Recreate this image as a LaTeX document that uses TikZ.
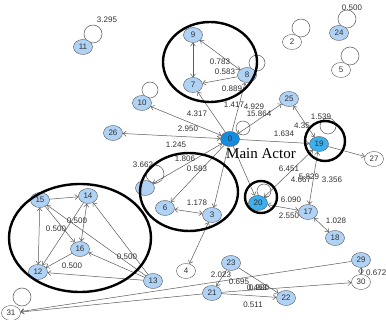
\documentclass[tikz,border=0pt]{standalone}
\usepackage{fontspec}
\setmainfont{Liberation Sans}
\newfontfamily\serifmain{Liberation Serif}
\usetikzlibrary{arrows.meta,shapes.geometric}
\definecolor{nodeblue}{RGB}{175,210,245}
\definecolor{mainblue}{RGB}{20,140,225}
\definecolor{midblue}{RGB}{60,175,238}
\definecolor{edgegray}{RGB}{90,90,90}
\definecolor{txtgray}{RGB}{50,50,50}
\begin{document}
\begin{tikzpicture}[x=1pt,y=-1pt,
  actor/.style={ellipse, draw=edgegray, fill=nodeblue, minimum width=19pt, minimum height=15pt, inner sep=0pt, font=\fontsize{8}{8}\selectfont, text=txtgray},
  wactor/.style={actor, fill=white},
  link/.style={draw=edgegray, line width=0.5pt, -{Straight Barb[length=3pt,width=5pt]}},
  blink/.style={draw=edgegray, line width=0.5pt, {Straight Barb[length=3pt,width=5pt]}-{Straight Barb[length=3pt,width=5pt]}},
  wlabel/.style={font=\fontsize{8}{8}\selectfont, text=txtgray, inner sep=0pt},
  selfloop/.style={draw=edgegray, line width=0.5pt},
  group/.style={draw=black, line width=2.4pt}
]
\useasboundingbox[fill=white] (0,0) rectangle (386,320);
% self loops
\foreach \p/\r in {{(93,34)}/9,{(257,63)}/8,{(150,90)}/8,{(301,28)}/9,{(347,19)}/9,{(350,56)}/9,{(243,128)}/7,{(328,126)}/8,{(264,191)}/7,{(155,174)}/9,{(22,297)}/9}
  \draw[selfloop] \p circle[radius=\r pt];
% nodes
\node[actor, fill=mainblue] (n0) at (230,139) {0};
\node[actor] (n1) at (145,188) {};
\node[wactor] (n2) at (292,42) {2};
\node[actor] (n3) at (212,215) {3};
\node[wactor] (n4) at (186,271) {4};
\node[wactor] (n5) at (341,70) {5};
\node[actor] (n6) at (165,208) {6};
\node[actor] (n7) at (193,85) {7};
\node[actor] (n8) at (247,75) {8};
\node[actor] (n9) at (193,35) {9};
\node[actor] (n10) at (142,103) {10};
\node[actor] (n11) at (83,47) {11};
\node[actor] (n12) at (38,272) {12};
\node[actor] (n13) at (153,281) {13};
\node[actor] (n14) at (88,196) {14};
\node[actor] (n15) at (40,200) {15};
\node[actor] (n16) at (80,249) {16};
\node[actor] (n17) at (308,212) {17};
\node[actor] (n18) at (335,238) {18};
\node[actor, fill=midblue] (n19) at (319,144) {19};
\node[actor, fill=midblue] (n20) at (258,203) {20};
\node[actor] (n21) at (212,293) {21};
\node[actor] (n22) at (286,298) {22};
\node[actor] (n23) at (231,263) {23};
\node[actor] (n24) at (339,33) {24};
\node[actor] (n25) at (289,99) {25};
\node[actor] (n26) at (113,133) {26};
\node[wactor] (n27) at (374,159) {27};
\node[actor] (n29) at (361,260) {29};
\node[wactor] (n30) at (361,282) {30};
\node[wactor] (n31) at (11,313) {31};
% edges
\draw[blink] (n9) -- (n7);
\draw[blink] (n8) -- (n9);
\draw[link] (n8) -- (n7);
\draw[link] (n0) -- (n7);
\draw[link] (n0) -- (n8);
\draw[blink] (n0) -- (n25);
\draw[blink] (n0) -- (n10);
\draw[blink] (n0) -- (n26);
\draw[blink] (n1) -- (n0);
\draw[link] (n0) -- (n6);
\draw[link] (n0) -- (n3);
\draw[blink] (n6) -- (n3);
\draw[link] (n0) -- (n19);
\draw[blink] (n25) -- (n19);
\draw[link] (n19) -- (n27);
\draw[blink] (n20) -- (n19);
\draw[blink] (n17) -- (n19);
\draw[blink] (n20) -- (n17);
\draw[link] (n0) -- (n20);
\draw[blink] (n17) -- (n18);
\draw[blink] (n3) -- (n4);
\draw[link] (n23) -- (n21);
\draw[link] (n23) -- (n22);
\draw[link] (n21) -- (n22);
\draw[link] (n21) -- (n30);
\draw[link] (n29) -- (n31);
\draw[link] (n21) -- (n31);
\draw[blink] (n29) -- (n30);
\draw[link] (n15) -- (n14);
\draw[blink] (n15) -- (n12);
\draw[blink] (n14) -- (n16);
\draw[link] (n14) -- (n12);
\draw[link] (n15) -- (n16);
\draw[link] (n16) -- (n12);
\draw[link] (n13) -- (n12);
\draw[link] (n13) -- (n16);
\draw[link] (n13) -- (n15);
\draw[link] (n13) -- (n14);
% edge labels
\node[wlabel] (l1) at (107,20) {3.295};
\node[wlabel] (l2) at (220,62) {0.783};
\node[wlabel] (l3) at (225,72) {0.583};
\node[wlabel] (l4) at (232,89) {0.889};
\node[wlabel] (l5) at (234,105) {1.417};
\node[wlabel] (l6) at (254,107) {4.929};
\node[wlabel] (l7) at (259,114) {15.864};
\node[wlabel] (l8) at (197,114) {4.317};
\node[wlabel] (l9) at (188,129) {2.950};
\node[wlabel] (l10) at (176,145) {1.245};
\node[wlabel] (l11) at (185,159) {1.806};
\node[wlabel] (l12) at (197,169) {0.583};
\node[wlabel] (l13) at (143,165) {3.662};
\node[wlabel] (l14) at (197,203) {1.178};
\node[wlabel] (l15) at (284,134) {1.634};
\node[wlabel] (l16) at (321,117) {1.539};
\node[wlabel] (l17) at (302,126) {4.35};
\node[wlabel] (l18) at (289,169) {6.451};
\node[wlabel] (l19) at (301,180) {4.667};
\node[wlabel] (l20) at (309,177) {5.829};
\node[wlabel] (l21) at (332,180) {3.356};
\node[wlabel] (l22) at (291,200) {6.090};
\node[wlabel] (l23) at (289,216) {2.550};
\node[wlabel] (l24) at (336,221) {1.028};
\node[wlabel] (l25) at (352,8) {0.500};
\node[wlabel] (l26) at (221,275) {2.023};
\node[wlabel] (l27) at (239,282) {0.695};
\node[wlabel] (l28) at (257,288) {0.453};
\node[wlabel] (l29) at (259,288) {0.980};
\node[wlabel] (l30) at (253,305) {0.511};
\node[wlabel, anchor=west] (l31) at (366,273) {0.672};
\node[wlabel] (l32) at (77,221) {0.500};
\node[wlabel] (l33) at (56,229) {0.500};
\node[wlabel] (l34) at (127,257) {0.500};
\node[wlabel] (l35) at (72,266) {0.500};
% main actor caption
\node[font=\serifmain\fontsize{15}{15}\selectfont, inner sep=0pt] (cap) at (261,154) {Main Actor};
% group outlines
\draw[group] (210,62) ellipse[x radius=47pt, y radius=40pt];
\draw[group] (189,192) ellipse[x radius=49pt, y radius=39pt];
\draw[group] (325,141) circle[radius=20pt];
\draw[group] (261,197) circle[radius=16pt];
\draw[group] (80,238) ellipse[x radius=71pt, y radius=54pt];
\end{tikzpicture}
\end{document}
